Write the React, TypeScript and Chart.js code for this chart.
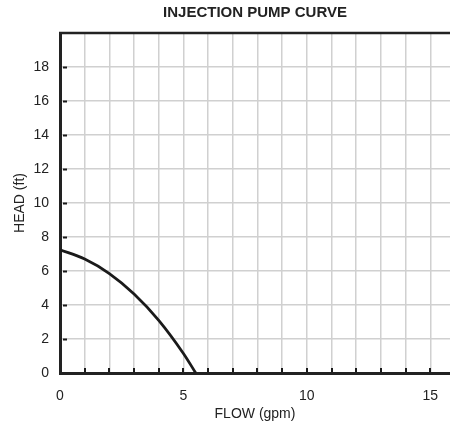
import React, { useEffect, useRef } from "react";
import { Chart, registerables } from "chart.js";

Chart.register(...registerables);

const flowGpm = [0, 1, 2, 3, 4, 5, 5.5];
const headFt = [7.25, 6.7, 5.85, 4.65, 3.1, 1.15, 0];
const xLabelValues = [0, 5, 10, 15];
const yLabelValues = [0, 2, 4, 6, 8, 10, 12, 14, 16, 18];

const FONT = "'Liberation Sans', Arial, Helvetica, sans-serif";

const innerTicks = {
  id: "innerTicks",
  afterDatasetsDraw(chart: any) {
    const { ctx, chartArea, scales } = chart;
    const xs = scales.x;
    const ys = scales.y;
    ctx.save();
    ctx.strokeStyle = "#1a1a1a";
    ctx.lineWidth = 2;
    for (let v = 2; v <= 18; v += 2) {
      const py = Math.round(ys.getPixelForValue(v)) + 0.5;
      ctx.beginPath();
      ctx.moveTo(chartArea.left + 3, py);
      ctx.lineTo(chartArea.left + 7, py);
      ctx.stroke();
    }
    for (let v = 1; v <= 15; v += 1) {
      const px = Math.round(xs.getPixelForValue(v));
      ctx.beginPath();
      ctx.moveTo(px, chartArea.bottom - 5);
      ctx.lineTo(px, chartArea.bottom - 1);
      ctx.stroke();
    }
    ctx.lineWidth = 2.5;
    ctx.strokeStyle = "#222";
    ctx.beginPath();
    ctx.moveTo(chartArea.left - 1, chartArea.top);
    ctx.lineTo(chartArea.right, chartArea.top);
    ctx.stroke();
    ctx.restore();
  },
};

export default function App() {
  const ref = useRef<HTMLCanvasElement | null>(null);
  useEffect(() => {
    if (!ref.current) return;
    const chart = new Chart(ref.current, {
      type: "line",
      data: {
        datasets: [
          {
            data: flowGpm.map((x, i) => ({ x, y: headFt[i] })),
            borderColor: "#1a1a1a",
            borderWidth: 2.8,
            pointRadius: 0,
            cubicInterpolationMode: "monotone",
            fill: false,
          },
        ],
      },
      options: {
        animation: false,
        responsive: false,
        maintainAspectRatio: false,
        layout: { padding: { left: 4, right: 0, top: 0, bottom: 0 } },
        plugins: {
          legend: { display: false },
          tooltip: { enabled: false },
          title: {
            display: true,
            text: "INJECTION PUMP CURVE",
            fullSize: false,
            color: "#222",
            font: { family: FONT, size: 15, weight: "bold" },
            padding: { top: 4, bottom: 11 },
          },
        },
        scales: {
          x: {
            type: "linear",
            min: 0,
            max: 15.8,
            afterBuildTicks: (scale: any) => {
              const t = [];
              for (let v = 0; v <= 15; v++) t.push({ value: v });
              scale.ticks = t;
            },
            afterFit: (scale: any) => {
              scale.height = 54;
              scale.paddingRight = 0;
              scale.paddingLeft = 0;
            },
            ticks: {
              autoSkip: false,
              maxRotation: 0,
              padding: 15,
              color: "#222",
              font: { family: FONT, size: 14 },
              callback: (v: any) => (xLabelValues.includes(Number(v)) ? String(v) : ""),
            },
            grid: { color: "#d0d0d0", lineWidth: 1.5, drawTicks: false },
            border: { display: true, color: "#222", width: 3 },
            title: {
              display: true,
              text: "FLOW (gpm)",
              color: "#222",
              font: { family: FONT, size: 14 },
              padding: { top: 2, bottom: 4 },
            },
          },
          y: {
            type: "linear",
            min: 0,
            max: 20,
            afterBuildTicks: (scale: any) => {
              const t = [];
              for (let v = 0; v <= 20; v += 2) t.push({ value: v });
              scale.ticks = t;
            },
            afterFit: (scale: any) => {
              scale.width = 56;
            },
            ticks: {
              autoSkip: false,
              padding: 11,
              color: "#222",
              font: { family: FONT, size: 14 },
              callback: (v: any) => (yLabelValues.includes(Number(v)) ? String(v) : ""),
            },
            grid: { color: "#d0d0d0", lineWidth: 1.5, drawTicks: false },
            border: { display: true, color: "#222", width: 3 },
            title: {
              display: true,
              text: "HEAD (ft)",
              color: "#222",
              font: { family: FONT, size: 14 },
              padding: { top: 8, bottom: 5 },
            },
          },
        },
      },
      plugins: [innerTicks],
    } as any);
    return () => chart.destroy();
  }, []);
  return (
    <div style={{ position: "absolute", left: 0, top: 0, width: 450, height: 427, background: "#fff" }}>
      <canvas ref={ref} width={450} height={427} style={{ display: "block" }} />
    </div>
  );
}
